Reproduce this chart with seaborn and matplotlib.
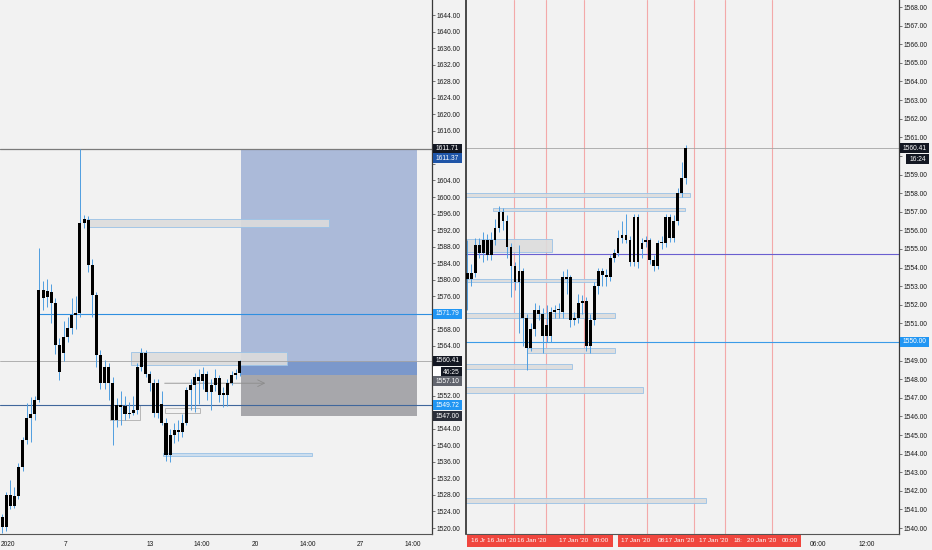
import matplotlib
matplotlib.use("Agg")
import matplotlib.pyplot as plt
import matplotlib.transforms as mtransforms
from matplotlib.patches import Rectangle
import seaborn as sns
import numpy as np
import pandas as pd

# ---- left panel (4h candles) ----
left_open = [1522.7, 1520.3, 1528.0, 1525.3, 1527.8, 1534.7, 1541.3, 1546.6, 1547.6, 1551.0,
             1577.5, 1577.3, 1577.0, 1574.4, 1564.2, 1562.3, 1566.2, 1568.3, 1571.5, 1572.0,
             1593.7, 1594.4, 1583.6, 1576.3, 1561.8, 1555.0, 1559.0, 1555.0, 1546.0, 1549.7,
             1549.4, 1547.6, 1547.9, 1548.6, 1559.0, 1562.4, 1557.2, 1555.0, 1547.8, 1550.0,
             1545.4, 1537.6, 1542.6, 1543.6, 1543.2, 1545.4, 1553.4, 1554.6, 1556.4, 1555.6,
             1557.2, 1552.9, 1554.6, 1556.2, 1552.6, 1552.1, 1555.0, 1557.1, 1557.5]
left_close = [1520.3, 1528.0, 1525.3, 1527.8, 1534.7, 1541.3, 1546.6, 1547.6, 1551.0, 1577.5,
              1575.6, 1575.8, 1574.4, 1564.2, 1557.7, 1566.2, 1568.3, 1571.5, 1572.0, 1593.7,
              1594.6, 1583.6, 1576.3, 1561.8, 1555.0, 1559.0, 1555.0, 1546.0, 1549.7, 1549.2,
              1547.6, 1547.9, 1548.6, 1559.0, 1562.4, 1557.2, 1555.0, 1547.8, 1555.0, 1545.4,
              1537.6, 1542.6, 1543.6, 1543.2, 1545.4, 1553.4, 1554.6, 1556.4, 1555.6, 1557.2,
              1552.9, 1554.6, 1556.2, 1552.2, 1552.1, 1555.0, 1557.1, 1557.5, 1560.41]
left_high = [1523.5, 1528.6, 1531.5, 1530.0, 1535.6, 1542.0, 1550.2, 1551.6, 1552.0, 1587.7,
             1579.6, 1580.2, 1579.0, 1575.5, 1566.0, 1570.0, 1571.0, 1575.5, 1576.0, 1611.5,
             1595.6, 1595.5, 1585.0, 1577.0, 1563.0, 1560.5, 1560.0, 1556.5, 1551.5, 1553.0,
             1552.0, 1550.5, 1552.0, 1560.0, 1563.5, 1563.0, 1558.0, 1556.0, 1556.0, 1553.0,
             1546.5, 1544.0, 1545.5, 1546.2, 1547.5, 1554.0, 1556.0, 1557.5, 1558.5, 1559.0,
             1558.0, 1556.0, 1558.5, 1557.0, 1554.0, 1556.0, 1558.0, 1558.5, 1560.6]
left_low = [1518.8, 1519.2, 1524.6, 1524.8, 1527.0, 1533.8, 1540.2, 1540.8, 1546.0, 1550.5,
            1572.8, 1573.5, 1569.5, 1562.0, 1555.8, 1560.3, 1565.0, 1567.0, 1568.0, 1571.0,
            1592.5, 1582.0, 1571.0, 1559.0, 1553.5, 1553.6, 1551.0, 1540.0, 1544.5, 1545.0,
            1546.0, 1546.6, 1547.2, 1547.5, 1558.0, 1556.5, 1553.0, 1546.8, 1546.5, 1544.8,
            1536.2, 1536.0, 1540.5, 1541.0, 1542.0, 1544.8, 1548.5, 1548.0, 1550.0, 1553.5,
            1551.0, 1548.5, 1553.0, 1550.5, 1549.3, 1549.5, 1554.5, 1556.0, 1556.8]
left_ticks = [1520 + 4 * k for k in range(32)]
left_hidden = [1548, 1556, 1560, 1572, 1608, 1612]   # covered by price tags
left_xtick_pos = [1.4, 15.4, 36.1, 48.8, 61.7, 74.6, 87.3, 100.2]
left_xtick_lab = ["2020", "7", "13", "14:00", "20", "14:00", "27", "14:00"]

# ---- right panel (lower timeframe) ----
right_open = [1553.7, 1553.4, 1553.7, 1555.2, 1554.8, 1555.5, 1554.7, 1555.5, 1556.1, 1557.0,
              1556.5, 1555.1, 1554.1, 1553.8, 1553.8, 1551.3, 1549.7, 1550.7, 1551.7, 1551.5,
              1550.3, 1550.3, 1551.6, 1551.7, 1551.6, 1553.5, 1553.5, 1551.2, 1551.3, 1552.1,
              1552.2, 1549.8, 1551.2, 1553.0, 1553.8, 1553.6, 1553.5, 1554.5, 1554.8, 1555.6,
              1555.75, 1555.5, 1554.3, 1556.7, 1555.0, 1555.4, 1555.5, 1554.4, 1554.1, 1555.3,
              1555.3, 1556.7, 1555.6, 1556.5, 1558.0, 1558.8]
right_close = [1553.4, 1553.7, 1555.2, 1554.8, 1555.5, 1554.7, 1555.5, 1556.1, 1557.0, 1556.5,
               1555.1, 1554.1, 1553.2, 1553.2, 1551.3, 1549.7, 1550.7, 1551.7, 1551.5, 1550.3,
               1550.9, 1551.6, 1551.7, 1551.7, 1553.5, 1553.4, 1551.2, 1551.3, 1552.1, 1552.2,
               1549.8, 1551.2, 1553.0, 1553.8, 1553.6, 1553.5, 1554.5, 1554.8, 1555.6, 1555.75,
               1555.5, 1554.3, 1556.7, 1554.3, 1555.3, 1555.5, 1554.4, 1554.1, 1555.3, 1555.4,
               1556.7, 1555.6, 1556.5, 1558.0, 1558.8, 1560.41]
right_high = [1555.5, 1554.2, 1555.6, 1555.6, 1555.9, 1555.8, 1555.9, 1556.6, 1557.3, 1557.2,
              1556.8, 1555.3, 1554.3, 1555.2, 1554.0, 1551.5, 1551.0, 1552.1, 1552.0, 1551.8,
              1552.0, 1551.9, 1552.0, 1552.1, 1553.8, 1553.9, 1553.6, 1551.6, 1552.6, 1552.5,
              1552.4, 1551.5, 1553.2, 1554.0, 1554.0, 1553.9, 1554.7, 1555.0, 1556.0, 1556.5,
              1556.9, 1555.7, 1556.9, 1556.9, 1555.6, 1555.7, 1555.6, 1554.7, 1555.5, 1555.7,
              1556.9, 1556.9, 1556.8, 1558.3, 1559.7, 1560.6]
right_low = [1551.7, 1553.0, 1553.5, 1554.5, 1554.3, 1554.4, 1554.4, 1555.2, 1555.9, 1556.0,
             1554.5, 1552.4, 1552.8, 1550.5, 1549.8, 1548.5, 1549.5, 1550.3, 1551.2, 1549.4,
             1550.0, 1550.0, 1551.3, 1551.3, 1551.3, 1552.6, 1550.8, 1550.9, 1551.0, 1551.5,
             1549.5, 1549.4, 1550.9, 1552.6, 1553.0, 1553.0, 1553.3, 1554.3, 1554.6, 1555.3,
             1555.3, 1554.1, 1554.1, 1554.0, 1554.5, 1555.1, 1554.2, 1553.8, 1553.9, 1555.0,
             1555.1, 1555.4, 1555.4, 1556.3, 1557.8, 1558.5]
right_ticks = list(range(1540, 1569))
right_hidden = [1550, 1560]
session_lines = [11.8, 19.8, 29.4, 45.3, 57.2, 65.0, 76.8]
right_xtick_pos = [88.4, 100.7]
right_xtick_lab = ["06:00", "12:00"]
red_labels = [(2.7, "16 Jr"), (8.6, "16 Jan '20"), (16.3, "16 Jan '20"), (26.9, "17 Jan '20"),
              (33.6, "00:00"), (42.5, "17 Jan '20"), (49.0, "08:"), (53.6, "17 Jan '20"),
              (62.2, "17 Jan '20"), (68.2, "18:"), (74.1, "20 Jan '20"), (81.4, "00:00")]
red_blocks = [(-0.1, 36.7), (38.0, 84.2)]

BG = "#f2f2f2"
WICK = "#4f9ee0"
INK = "#1a1a1a"

sns.set_theme(style="white")
plt.rcParams["font.family"] = ["Liberation Sans", "DejaVu Sans"]
plt.rcParams["axes.facecolor"] = BG

fig = plt.figure(figsize=(9.32, 5.5), dpi=100)
fig.patch.set_facecolor(BG)
W, H = 932, 550


def px_axes(x0, y0, x1, y1):
    return fig.add_axes([x0 / W, 1 - y1 / H, (x1 - x0) / W, (y1 - y0) / H])


def draw_candles(ax, o, c, h, l, width, min_body):
    df = pd.DataFrame({"open": o, "close": c, "high": h, "low": l})
    df["x"] = np.arange(len(df))
    df["bottom"] = df[["open", "close"]].min(axis=1)
    df["body"] = (df["close"] - df["open"]).abs().clip(lower=min_body)
    ax.vlines(df["x"], df["low"], df["high"], color=WICK, lw=0.7, zorder=3)
    ax.bar(df["x"], df["body"], bottom=df["bottom"], width=width,
           color="black", linewidth=0, zorder=4)


def zone(ax, x0, x1, p0, p1, fc="#dcdcdc", ec="#9cc3e6", alpha=0.9, lw=0.7):
    ax.add_patch(Rectangle((x0, p0), x1 - x0, p1 - p0, facecolor=fc,
                           edgecolor=ec, lw=lw, alpha=alpha, zorder=2))


def price_tag(ax, price, text, fc, x0, x1, height, tc="white"):
    tr = mtransforms.blended_transform_factory(ax.transAxes, ax.transData)
    ax.add_patch(Rectangle((x0, price - height / 2), x1 - x0, height, transform=tr,
                           facecolor=fc, edgecolor="none", clip_on=False, zorder=10))
    if text:
        ax.text((x0 + x1) / 2, price, text, transform=tr, color=tc, fontsize=4.8,
                ha="center", va="center", clip_on=False, zorder=11)


def style_axis(ax):
    ax.set_facecolor(BG)
    ax.yaxis.tick_right()
    ax.tick_params(axis="y", length=2, width=0.5, pad=1.5, labelsize=4.8,
                   colors="#444", labelcolor=INK)
    ax.tick_params(axis="x", length=2, width=0.5, pad=3, labelsize=4.8,
                   colors="#444", labelcolor=INK)
    ax.grid(False)
    for s in ["top", "left"]:
        ax.spines[s].set_visible(False)
    ax.spines["right"].set_color("#3a3a3a")
    ax.spines["right"].set_linewidth(0.9)
    ax.spines["bottom"].set_color("#555555")
    ax.spines["bottom"].set_linewidth(0.8)


def price_labels(ticks, hidden):
    return ["" if t in hidden else f"{t:.2f}" for t in ticks]


# ---------------- left panel ----------------
ax_l = px_axes(0, 0, 432, 534)
style_axis(ax_l)
ax_l.set_xlim(-0.5, 104.9)
ax_l.set_ylim(1518.55, 1647.63)

# position box (target / stop)
zone(ax_l, 58.3, 101.2, 1557.1, 1611.37, fc="#abbad9", ec="none", alpha=1)
zone(ax_l, 58.3, 101.2, 1557.1, 1560.41, fc="#7b98cb", ec="none", alpha=1)
zone(ax_l, 58.3, 101.2, 1547.0, 1557.1, fc="#a7a7ab", ec="none", alpha=1)

# supply / demand zones
zone(ax_l, 20.7, 79.7, 1592.75, 1594.69)
zone(ax_l, 31.5, 69.5, 1559.4, 1562.54)
zone(ax_l, 39.3, 75.6, 1537.4, 1538.1, fc="#c9dcee")
zone(ax_l, 26.3, 33.6, 1546.1, 1549.73, fc="none", ec="#b0b0b0")
zone(ax_l, 39.7, 48.3, 1547.8, 1549.0, fc="none", ec="#b0b0b0")

ax_l.axhline(1611.71, color="#7a7a7a", lw=0.9, zorder=2)
ax_l.axhline(1560.41, color="#a5a5a5", lw=0.6, zorder=2)
ax_l.axhline(1549.72, color="#40679c", lw=0.8, zorder=2)
ax_l.hlines(1571.79, 9.0, 104.9, color="#2f8fe0", lw=0.8, zorder=2)
ax_l.annotate("", xy=(64.9, 1555.0), xytext=(39.0, 1555.0),
              arrowprops=dict(arrowstyle="->", color="#8c8c8c", lw=0.6), zorder=3)

draw_candles(ax_l, left_open, left_close, left_high, left_low, 0.74, 0.3)

ax_l.set_yticks(left_ticks)
ax_l.set_yticklabels(price_labels(left_ticks, left_hidden))
ax_l.set_xticks(left_xtick_pos)
ax_l.set_xticklabels(left_xtick_lab)

hl = 10 / 4.137
price_tag(ax_l, 1611.71, "1611.71", "#131722", 1.002, 1.069, hl)
price_tag(ax_l, 1609.4, "1611.37", "#1f55a8", 1.002, 1.069, hl)
price_tag(ax_l, 1571.79, "1571.79", "#2196f3", 1.002, 1.069, hl)
price_tag(ax_l, 1560.41, "1560.41", "#131722", 1.002, 1.069, hl)
price_tag(ax_l, 1557.7, "", "#ffffff", 1.002, 1.021, hl)
price_tag(ax_l, 1557.7, "46:25", "#131722", 1.021, 1.069, hl)
price_tag(ax_l, 1555.5, "1557.10", "#62656e", 1.002, 1.069, hl)
price_tag(ax_l, 1549.72, "1549.72", "#2196f3", 1.002, 1.069, hl)
price_tag(ax_l, 1547.0, "1547.00", "#2a2e39", 1.002, 1.069, hl)

# ---------------- right panel ----------------
ax_r = px_axes(466, 0, 899, 534)
style_axis(ax_r)
ax_r.spines["left"].set_visible(True)
ax_r.spines["left"].set_color("#2b2b2b")
ax_r.spines["left"].set_linewidth(1.2)
ax_r.set_xlim(-0.33, 108.8)
ax_r.set_ylim(1539.68, 1568.38)

for sx in session_lines:
    ax_r.axvline(sx, color="#f3a9a9", lw=0.8, zorder=1)

zone(ax_r, -0.6, 56.1, 1557.79, 1558.0)
zone(ax_r, 6.5, 54.9, 1557.04, 1557.2)
zone(ax_r, -0.6, 21.4, 1554.83, 1555.53)
zone(ax_r, -0.6, 33.0, 1553.22, 1553.38)
zone(ax_r, -0.6, 37.2, 1551.29, 1551.56)
zone(ax_r, 15.05, 37.2, 1549.41, 1549.68)
zone(ax_r, -0.6, 26.4, 1548.55, 1548.82)
zone(ax_r, -0.6, 44.3, 1547.26, 1547.58)
zone(ax_r, -0.6, 60.1, 1541.35, 1541.62)

ax_r.axhline(1560.41, color="#a5a5a5", lw=0.6, zorder=2)
ax_r.axhline(1554.73, color="#6a5fd0", lw=0.8, zorder=2)
ax_r.axhline(1550.0, color="#3b9be8", lw=0.8, zorder=2)

draw_candles(ax_r, right_open, right_close, right_high, right_low, 0.7, 0.07)

ax_r.set_yticks(right_ticks)
ax_r.set_yticklabels(price_labels(right_ticks, right_hidden))
ax_r.set_xticks(right_xtick_pos)
ax_r.set_xticklabels(right_xtick_lab)

hr = 10 / 18.61
price_tag(ax_r, 1560.41, "1560.41", "#131722", 1.002, 1.069, hr)
price_tag(ax_r, 1559.83, "16:24", "#131722", 1.016, 1.069, hr)
price_tag(ax_r, 1550.0, "1550.00", "#2196f3", 1.002, 1.069, hr)

# red session labels on the time axis
tr_x = mtransforms.blended_transform_factory(ax_r.transData, ax_r.transAxes)
for x0, x1 in red_blocks:
    ax_r.add_patch(Rectangle((x0, -13 / 534), x1 - x0, 12 / 534, transform=tr_x,
                             facecolor="#f0463e", edgecolor="none", clip_on=False, zorder=10))
for xp, lab in red_labels:
    ax_r.text(xp, -7 / 534, lab, transform=tr_x, color="white", fontsize=4.6,
              ha="center", va="center", clip_on=False, zorder=11)

fig.savefig("out.png", dpi=100, facecolor=BG)
